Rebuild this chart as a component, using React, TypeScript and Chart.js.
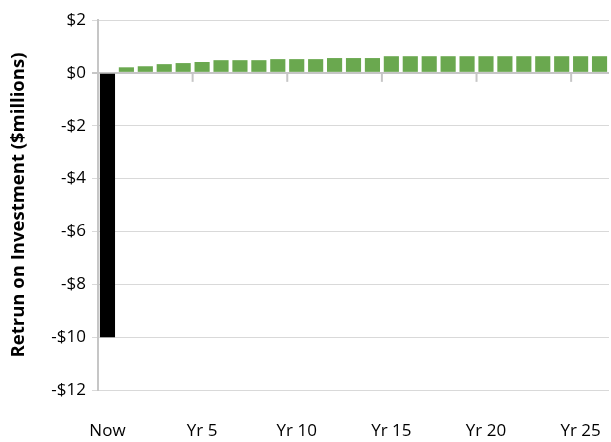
import React, { useEffect, useRef } from "react";
import { Chart, registerables } from "chart.js";

Chart.register(...registerables);

const categories: string[] = [
  "Now", "Yr 1", "Yr 2", "Yr 3", "Yr 4", "Yr 5", "Yr 6", "Yr 7", "Yr 8", "Yr 9",
  "Yr 10", "Yr 11", "Yr 12", "Yr 13", "Yr 14", "Yr 15", "Yr 16", "Yr 17", "Yr 18",
  "Yr 19", "Yr 20", "Yr 21", "Yr 22", "Yr 23", "Yr 24", "Yr 25", "Yr 26",
];

const roiValues: number[] = [
  -10, 0.21, 0.25, 0.33, 0.37, 0.41, 0.48, 0.48, 0.48, 0.52, 0.52, 0.52, 0.56, 0.56,
  0.56, 0.63, 0.63, 0.63, 0.63, 0.63, 0.63, 0.63, 0.63, 0.63, 0.63, 0.63, 0.63,
];

const yTicks: number[] = [-12, -10, -8, -6, -4, -2, 0, 2];
const labelEvery = 5;

const FONT = "'Open Sans', Lato, 'DejaVu Sans', sans-serif";
const GREEN = "#6aa84f";
const NEG = "#000000";
const GRID = "#d9d9d9";
const AXIS = "#c6c6c6";

const zeroTicksPlugin = {
  id: "zeroTicks",
  afterDatasetsDraw(chart: any) {
    const x = chart.scales.x;
    const y = chart.scales.y;
    const ctx = chart.ctx;
    const y0 = y.getPixelForValue(0);
    ctx.save();
    ctx.strokeStyle = AXIS;
    ctx.lineWidth = 2;
    for (let i = labelEvery; i < categories.length; i += labelEvery) {
      const px = (x.getPixelForValue(i - 1) + x.getPixelForValue(i)) / 2;
      ctx.beginPath();
      ctx.moveTo(px, y0);
      ctx.lineTo(px, y0 + 9);
      ctx.stroke();
    }
    ctx.restore();
  },
};

export default function App() {
  const ref = useRef<HTMLCanvasElement | null>(null);
  useEffect(() => {
    if (!ref.current) return;
    const chart = new Chart(ref.current, {
      type: "bar",
      data: {
        labels: categories,
        datasets: [
          {
            data: roiValues,
            backgroundColor: roiValues.map((v) => (v < 0 ? NEG : GREEN)),
            borderWidth: 0,
            barPercentage: 0.8,
            categoryPercentage: 1.0,
          },
        ],
      },
      options: {
        animation: false,
        responsive: false,
        layout: { padding: { top: 20, right: 2, left: 0, bottom: 0 } },
        plugins: { legend: { display: false }, tooltip: { enabled: false } },
        scales: {
          x: {
            grid: { display: false, drawTicks: false },
            border: { display: false },
            ticks: {
              autoSkip: false,
              maxRotation: 0,
              minRotation: 0,
              padding: 31,
              color: "#000",
              font: { family: FONT, size: 17 },
              callback: (_v: any, i: number) => (i % labelEvery === 0 ? categories[i] : ""),
            },
            afterFit: (s: any) => {
              s.height = 52;
              s.paddingRight = 0;
              s.paddingLeft = 0;
            },
          },
          y: {
            min: yTicks[0],
            max: yTicks[yTicks.length - 1],
            afterBuildTicks: (s: any) => {
              s.ticks = yTicks.map((v) => ({ value: v }));
            },
            grid: {
              color: (c: any) => (c.tick && c.tick.value === 0 ? AXIS : GRID),
              lineWidth: (c: any) => (c.tick && c.tick.value === 0 ? 2 : 1),
              tickLength: 6,
            },
            border: { display: true, color: AXIS, width: 2 },
            ticks: {
              padding: 6,
              color: "#000",
              font: { family: FONT, size: 17 },
              callback: (v: any) => (v < 0 ? "-$" + Math.abs(v) : "$" + v),
            },
            title: {
              display: true,
              text: "Retrun on Investment ($millions)",
              color: "#000",
              font: { family: FONT, size: 18.5, weight: "bold" },
              padding: { top: 8, bottom: 0 },
            },
            afterFit: (s: any) => {
              s.width = 98;
            },
          },
        },
      },
      plugins: [zeroTicksPlugin],
    });
    return () => chart.destroy();
  }, []);
  return (
    <div style={{ position: "fixed", left: 0, top: 0, width: 611, height: 442, background: "#fff" }}>
      <canvas ref={ref} width={611} height={442} />
    </div>
  );
}
